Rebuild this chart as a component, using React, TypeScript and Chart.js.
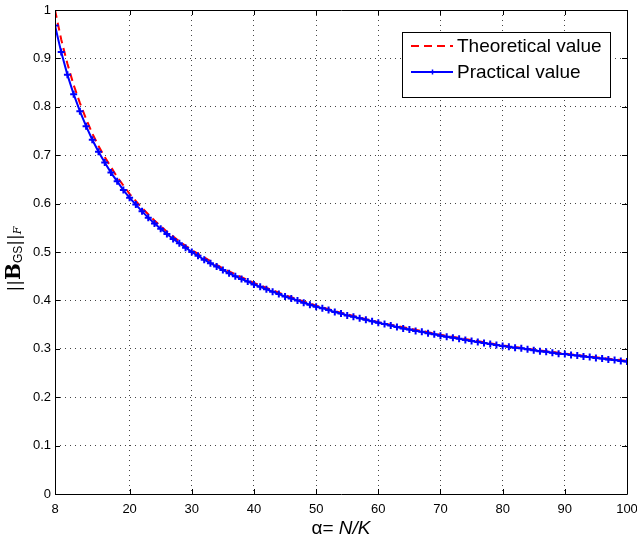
import React, { useEffect, useRef } from 'react';
import { Chart, registerables } from 'chart.js';
Chart.register(...registerables);

const alphaPractical = Array.from({ length: 93 }, (_, i) => 8 + i);
const practicalValues = [
  0.968, 0.913, 0.866, 0.826, 0.791, 0.760, 0.732, 0.707, 0.685, 0.664,
  0.646, 0.628, 0.612, 0.598, 0.584, 0.571, 0.559, 0.548, 0.537, 0.527,
  0.518, 0.509, 0.500, 0.492, 0.484, 0.477, 0.470, 0.463, 0.456, 0.450,
  0.444, 0.439, 0.433, 0.428, 0.423, 0.418, 0.413, 0.408, 0.404, 0.400,
  0.395, 0.391, 0.387, 0.384, 0.380, 0.376, 0.373, 0.369, 0.366, 0.363,
  0.360, 0.357, 0.354, 0.351, 0.348, 0.345, 0.342, 0.340, 0.337, 0.335,
  0.332, 0.330, 0.327, 0.325, 0.323, 0.321, 0.318, 0.316, 0.314, 0.312,
  0.310, 0.308, 0.306, 0.304, 0.302, 0.301, 0.299, 0.297, 0.295, 0.294,
  0.292, 0.290, 0.289, 0.287, 0.286, 0.284, 0.283, 0.281, 0.280, 0.278,
  0.277, 0.275, 0.274,
];
const alphaTheory = [8, 9, 10, 11, 12, 13, 14, 15, 16, 18, 20, 22, 24, 26, 28, 30, 35, 40, 45, 50, 55, 60, 70, 80, 90, 100];
const theoryValues = [
  1.0, 0.939, 0.889, 0.845, 0.808, 0.775, 0.745, 0.719, 0.696, 0.655,
  0.620, 0.591, 0.565, 0.542, 0.522, 0.504, 0.466, 0.436, 0.411, 0.389,
  0.371, 0.355, 0.329, 0.307, 0.290, 0.275,
];
const xTicks = [8, 20, 30, 40, 50, 60, 70, 80, 90, 100];
const yTicks = [0, 0.1, 0.2, 0.3, 0.4, 0.5, 0.6, 0.7, 0.8, 0.9, 1];
const seriesLabels = ['Theoretical value', 'Practical value'];

const FONT = '"Liberation Sans", Arial, sans-serif';

const framePlugin = {
  id: 'frame',
  afterDraw(chart: any) {
    const ctx = chart.ctx;
    const { left, right, top, bottom } = chart.chartArea;
    const xs = chart.scales.x;
    const ys = chart.scales.y;
    ctx.save();
    ctx.strokeStyle = '#000';
    ctx.lineWidth = 1;
    ctx.beginPath();
    ctx.rect(Math.round(left) + 0.5, Math.round(top) + 0.5, Math.round(right - left), Math.round(bottom - top));
    ctx.stroke();
    const tl = 5;
    ctx.beginPath();
    xTicks.forEach((v) => {
      const px = Math.round(xs.getPixelForValue(v)) + 0.5;
      ctx.moveTo(px, bottom);
      ctx.lineTo(px, bottom - tl);
      ctx.moveTo(px, top);
      ctx.lineTo(px, top + tl);
    });
    yTicks.forEach((v) => {
      const py = Math.round(ys.getPixelForValue(v)) + 0.5;
      ctx.moveTo(left, py);
      ctx.lineTo(left + tl, py);
      ctx.moveTo(right, py);
      ctx.lineTo(right - tl, py);
    });
    ctx.stroke();

    // legend
    const lx = 402, ly = 32, lw = 208, lh = 65;
    ctx.fillStyle = '#fff';
    ctx.fillRect(lx, ly, lw, lh);
    ctx.strokeRect(lx + 0.5, ly + 0.5, lw, lh);
    const ds = chart.data.datasets;
    const rows = [ly + 14, ly + 40];
    ds.forEach((d: any, i: number) => {
      const y = rows[i];
      ctx.save();
      ctx.strokeStyle = d.borderColor;
      ctx.lineWidth = 2;
      ctx.setLineDash(d.borderDash || []);
      ctx.beginPath();
      ctx.moveTo(lx + 9, y);
      ctx.lineTo(lx + 51, y);
      ctx.stroke();
      ctx.restore();
      if (i === 1) {
        ctx.save();
        ctx.strokeStyle = d.borderColor;
        ctx.lineWidth = 1.5;
        ctx.beginPath();
        ctx.moveTo(lx + 30.5 - 2.5, y);
        ctx.lineTo(lx + 30.5 + 2.5, y);
        ctx.moveTo(lx + 30.5, y - 2.5);
        ctx.lineTo(lx + 30.5, y + 2.5);
        ctx.stroke();
        ctx.restore();
      }
      ctx.fillStyle = '#000';
      ctx.font = '19px ' + FONT;
      ctx.textBaseline = 'middle';
      ctx.textAlign = 'left';
      ctx.fillText(d.label, lx + 55, y + 1);
    });

    // x-axis title: α= N/K
    ctx.fillStyle = '#000';
    ctx.textBaseline = 'alphabetic';
    ctx.textAlign = 'left';
    const p1 = 'α= ';
    const p2 = 'N/K';
    ctx.font = '19px ' + FONT;
    const w1 = ctx.measureText(p1).width;
    ctx.font = 'italic 19px ' + FONT;
    const w2 = ctx.measureText(p2).width;
    const cx = (left + right) / 2;
    const sx = cx - (w1 + w2) / 2;
    const by = 534;
    ctx.font = '19px ' + FONT;
    ctx.fillText(p1, sx, by);
    ctx.font = 'italic 19px ' + FONT;
    ctx.fillText(p2, sx + w1, by);

    // y-axis title: ||B_GS||_F
    ctx.save();
    ctx.translate(20, 259);
    ctx.rotate(-Math.PI / 2);
    const parts = [
      { t: '||', f: '17px "DejaVu Serif", serif', dy: 0 },
      { t: 'B', f: 'bold 20px "DejaVu Serif", serif', dy: 0 },
      { t: 'GS', f: '12px ' + FONT, dy: 2 },
      { t: '||', f: '17px "DejaVu Serif", serif', dy: 0 },
      { t: 'F', f: 'italic 11px "DejaVu Serif", serif', dy: 1 },
    ];
    let total = 0;
    parts.forEach((p) => {
      ctx.font = p.f;
      total += ctx.measureText(p.t).width;
    });
    let px = -total / 2;
    parts.forEach((p) => {
      ctx.font = p.f;
      ctx.fillText(p.t, px, p.dy);
      px += ctx.measureText(p.t).width;
    });
    ctx.restore();
    ctx.restore();
  },
};

export default function App() {
  const ref = useRef<HTMLCanvasElement>(null);
  useEffect(() => {
    document.body.style.margin = '0';
    const chart = new Chart(ref.current as HTMLCanvasElement, {
      type: 'line',
      data: {
        datasets: [
          {
            label: seriesLabels[0],
            data: alphaTheory.map((x, i) => ({ x, y: theoryValues[i] })),
            borderColor: '#ff0000',
            borderWidth: 2,
            borderDash: [8, 5],
            pointRadius: 0,
            tension: 0,
            order: 1,
          },
          {
            label: seriesLabels[1],
            data: alphaPractical.map((x, i) => ({ x, y: practicalValues[i] })),
            borderColor: '#0000ff',
            backgroundColor: '#0000ff',
            borderWidth: 2,
            pointStyle: 'cross',
            pointRadius: 3.5,
            pointBorderWidth: 2,
            tension: 0,
            order: 0,
          },
        ],
      },
      options: {
        responsive: false,
        animation: false,
        maintainAspectRatio: false,
        layout: { padding: { top: 10, right: 10, left: 0, bottom: 0 } },
        plugins: { legend: { display: false }, tooltip: { enabled: false } },
        scales: {
          x: {
            type: 'linear',
            min: 8,
            max: 100,
            afterBuildTicks: (s: any) => {
              s.ticks = xTicks.map((v) => ({ value: v }));
            },
            afterFit: (s: any) => {
              s.height = 42;
              s.paddingLeft = 0;
              s.paddingRight = 0;
            },
            ticks: {
              color: '#000',
              font: { family: FONT, size: 13 },
              padding: 8,
              maxRotation: 0,
              autoSkip: false,
              callback: (v: any) => String(v),
            },
            grid: {
              color: '#444',
              lineWidth: 1,
              drawTicks: false,
            },
            border: { display: false, dash: [1, 4] },
          },
          y: {
            type: 'linear',
            min: 0,
            max: 1,
            afterBuildTicks: (s: any) => {
              s.ticks = yTicks.map((v) => ({ value: v }));
            },
            afterFit: (s: any) => {
              s.width = 55;
              s.paddingTop = 0;
              s.paddingBottom = 0;
            },
            ticks: {
              color: '#000',
              font: { family: FONT, size: 13 },
              padding: 4,
              autoSkip: false,
              callback: (v: any) => String(Math.round(v * 10) / 10),
            },
            grid: {
              color: '#444',
              lineWidth: 1,
              drawTicks: false,
            },
            border: { display: false, dash: [1, 4] },
          },
        },
      },
      plugins: [framePlugin],
    } as any);
    return () => chart.destroy();
  }, []);
  return (
    <div style={{ width: 637, height: 536 }}>
      <canvas ref={ref} width={637} height={536} style={{ width: 637, height: 536, display: 'block' }} />
    </div>
  );
}
